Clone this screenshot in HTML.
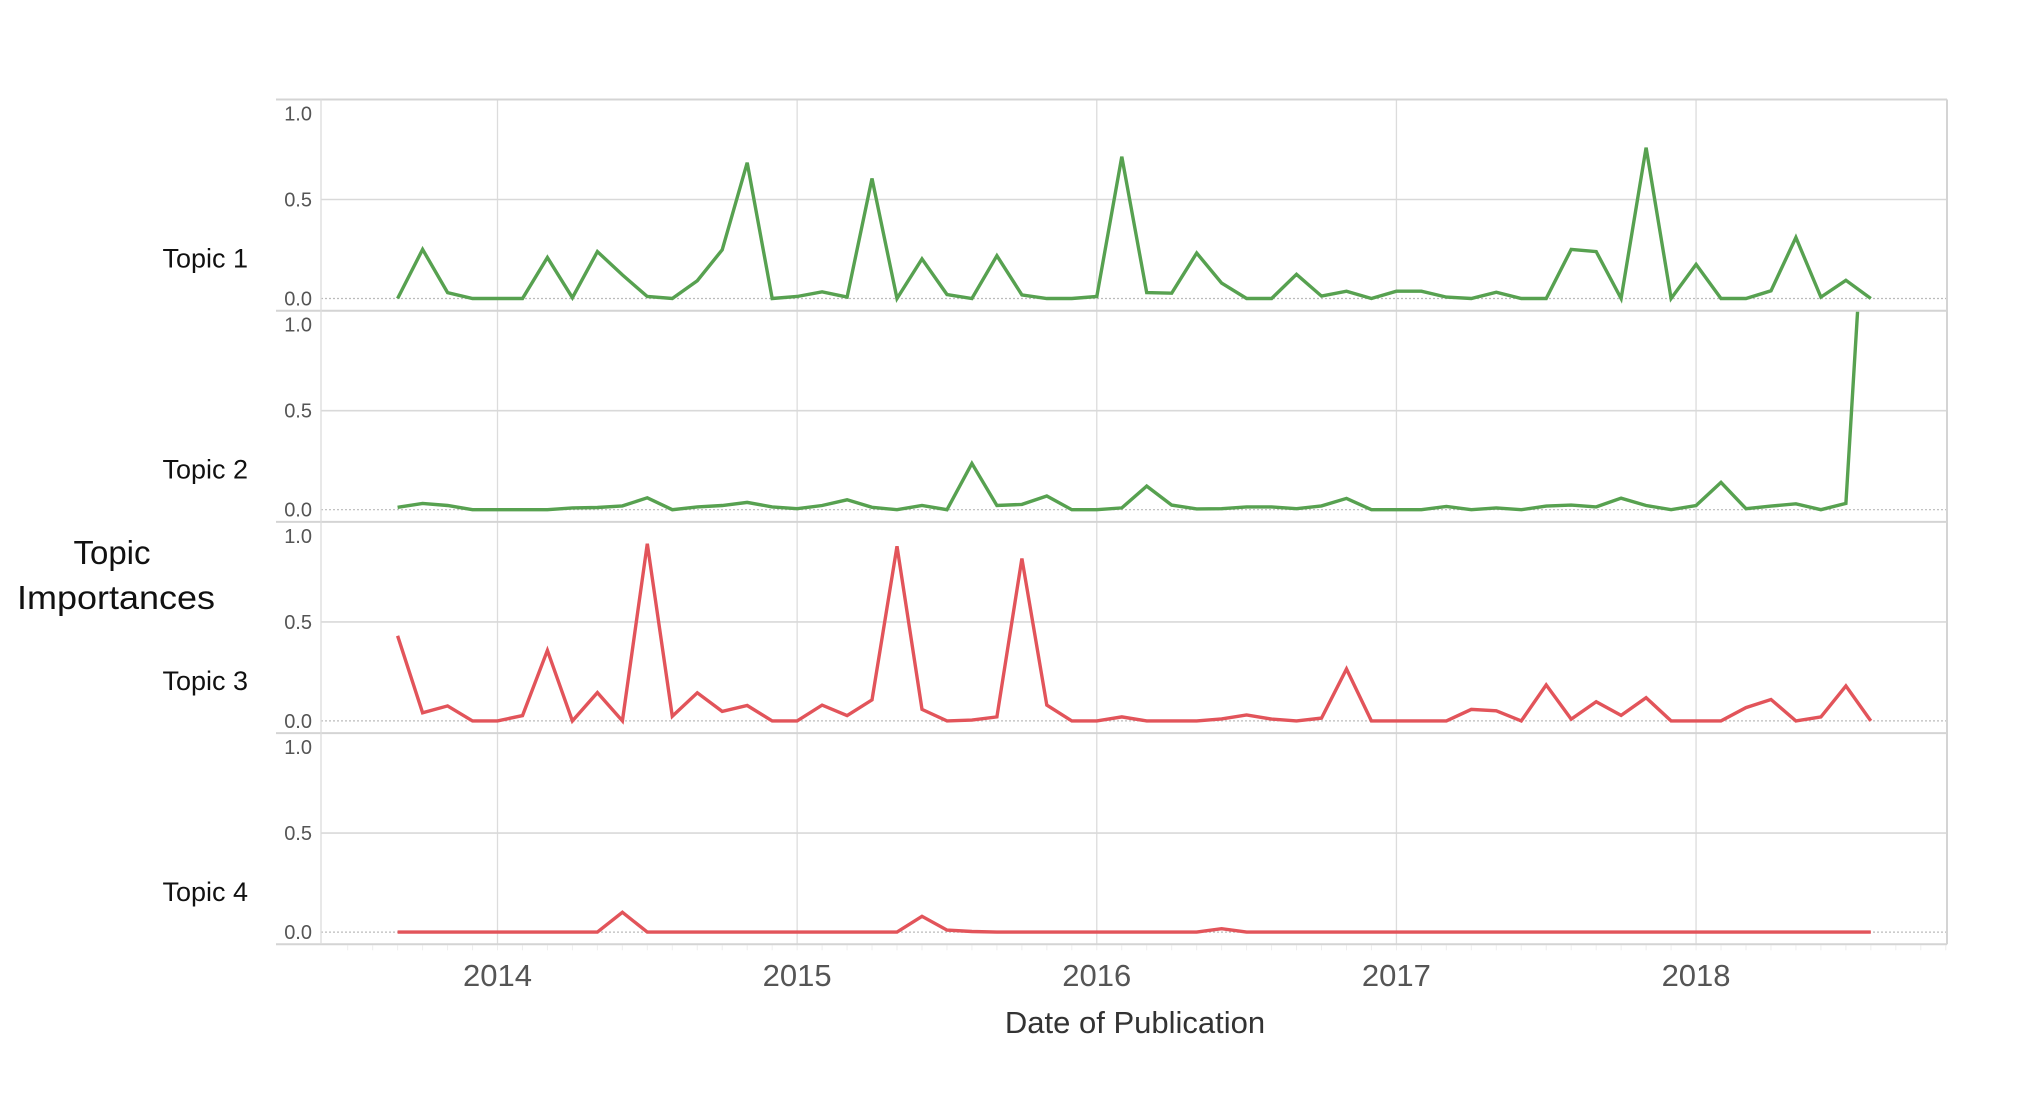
<!DOCTYPE html>
<html><head><meta charset="utf-8"><style>
html,body{margin:0;padding:0;background:#fff;}
svg{display:block;font-family:"Liberation Sans",sans-serif;}
</style></head><body>
<svg id="chart" width="2020" height="1100" viewBox="0 0 2020 1100">
<defs id="defs"></defs>
<g id="grid"></g>
<g id="series"></g>
<g id="labels"></g>
<text x="1135" y="1033" font-size="31" fill="#333" text-anchor="middle">Date of Publication</text>
<text x="112" y="564" font-size="33" fill="#111" text-anchor="middle">Topic</text>
<text x="116" y="609" font-size="33" fill="#111" text-anchor="middle" textLength="198" lengthAdjust="spacingAndGlyphs">Importances</text>
</svg>
<script>
const topicNames = ["Topic 1","Topic 2","Topic 3","Topic 4"];
const topicColors = ["#57a150","#57a150","#e2545a","#e2545a"];
const yearLabels = ["2014","2015","2016","2017","2018"];
const yTickLabels = ["0.0","0.5","1.0"];
const yTickValues = [0,0.5,1.0];
const startMonthOffset = -4; // Sep 2013 relative to Jan 2014
const topic1 = [0,0.248,0.03,0,0,0,0.207,0.004,0.237,0.119,0.01,0,0.09,0.246,0.686,0,0.01,0.034,0.007,0.606,0,0.2,0.02,0,0.216,0.018,0,0,0.01,0.716,0.03,0.027,0.23,0.078,0,0,0.122,0.012,0.037,0,0.037,0.037,0.007,0,0.032,0,0,0.248,0.237,0,0.762,0,0.172,0,0,0.039,0.308,0.007,0.092,0];
const topic2 = [0.012,0.032,0.021,0,0,0,0,0.009,0.011,0.019,0.06,0,0.014,0.021,0.037,0.014,0.005,0.021,0.05,0.012,0,0.021,0,0.234,0.021,0.027,0.069,0,0,0.009,0.119,0.023,0.004,0.005,0.014,0.014,0.005,0.019,0.057,0,0,0,0.016,0,0.009,0,0.018,0.023,0.014,0.058,0.021,0,0.021,0.138,0.005,0.018,0.03,0,0.032,2.1];
const topic3 = [0.43,0.041,0.076,0,0,0.027,0.356,0,0.143,0,0.895,0.023,0.142,0.048,0.078,0,0,0.08,0.027,0.106,0.882,0.058,0,0.004,0.02,0.82,0.08,0,0,0.02,0,0,0,0.01,0.03,0.009,0,0.014,0.262,0,0,0,0,0.058,0.051,0,0.182,0.009,0.097,0.028,0.117,0,0,0,0.067,0.108,0,0.02,0.177,0];
const topic4 = [0,0,0,0,0,0,0,0,0,0.1,0,0,0,0,0,0,0,0,0,0,0,0.08,0.01,0.003,0,0,0,0,0,0,0,0,0,0.017,0,0,0,0,0,0,0,0,0,0,0,0,0,0,0,0,0,0,0,0,0,0,0,0,0,0];
const topics = [topic1, topic2, topic3, topic4];

const NS = "http://www.w3.org/2000/svg";
const L = 276, AX = 321, R = 1947, TOP = 99.5, PH = 211.2, BOTTOM = TOP + 4*PH;
const X0 = 497.5, MW = 24.97;
function xScale(m){ return X0 + m*MW; }
function yScale(p, v){ return TOP + p*PH + 199 - v*198; }
function mk(tag, attrs, parent){ const e = document.createElementNS(NS, tag); for (const k in attrs) e.setAttribute(k, attrs[k]); parent.appendChild(e); return e; }
const grid = document.getElementById('grid'), series = document.getElementById('series'), labels = document.getElementById('labels'), defs = document.getElementById('defs');

yearLabels.forEach((y, i) => {
  const x = xScale(i*12);
  const gl = mk('line', {x1:x, x2:x, y1:TOP, y2:BOTTOM, stroke:'#dcdcdc', 'stroke-width':1.3}, grid);
  
  
  const t = mk('text', {x:x, y:986, 'font-size':31, fill:'#555', 'text-anchor':'middle'}, labels);
  t.textContent = y;
  
  
});
for (let m = -6; m <= 58; m++) {
  const x = xScale(m);
  if (x < AX || x > R) continue;
  const tk = mk('line', {x1:x, x2:x, y1:BOTTOM+1, y2:BOTTOM+6, stroke:'#eee', 'stroke-width':1}, grid);
  
  
}

topics.forEach((vals, p) => {
  const top = TOP + p*PH;
  const g5 = mk('line', {x1:AX, x2:R, y1:yScale(p,0.5), y2:yScale(p,0.5), stroke:'#d9d9d9', 'stroke-width':1.6}, grid);
  
  
  const g0 = mk('line', {x1:AX, x2:R, y1:yScale(p,0), y2:yScale(p,0), stroke:'#bbb', 'stroke-width':1.2, 'stroke-dasharray':'2,2'}, grid);
  
  
  const sep = mk('line', {x1:L, x2:R, y1:top, y2:top, stroke:'#d4d4d4', 'stroke-width':2}, grid);
  
  
  yTickValues.forEach((v, i) => {
    let y = yScale(p, v) + 7;
    if (v === 1.0) y = top + 21;
    const t = mk('text', {x:312, y:y, 'font-size':20, fill:'#555', 'text-anchor':'end'}, labels);
    t.textContent = yTickLabels[i];
    
    
  });
  const nm = mk('text', {x:248, y:top + 168, 'font-size':27, fill:'#111', 'text-anchor':'end'}, labels);
  nm.textContent = topicNames[p];
  
  
  const cp = mk('clipPath', {id:'clip'+p}, defs);
  mk('rect', {x:AX, y:top+1, width:R-AX, height:PH-1}, cp);
  const pts = vals.map((v, i) => xScale(startMonthOffset + i).toFixed(1) + ',' + yScale(p, v).toFixed(1)).join(' ');
  const line = mk('polyline', {points:pts, fill:'none', stroke:topicColors[p], 'stroke-width':3.4, 'stroke-linejoin':'miter', 'clip-path':'url(#clip'+p+')'}, series);
  
  
});
const bl = mk('line', {x1:L, x2:R, y1:BOTTOM, y2:BOTTOM, stroke:'#d4d4d4', 'stroke-width':2}, grid);


const ya = mk('line', {x1:AX, x2:AX, y1:TOP, y2:BOTTOM, stroke:'#dcdcdc', 'stroke-width':1.3}, grid);


const rb = mk('line', {x1:R, x2:R, y1:TOP, y2:BOTTOM, stroke:'#d4d4d4', 'stroke-width':2}, grid);


</script>
</body></html>
